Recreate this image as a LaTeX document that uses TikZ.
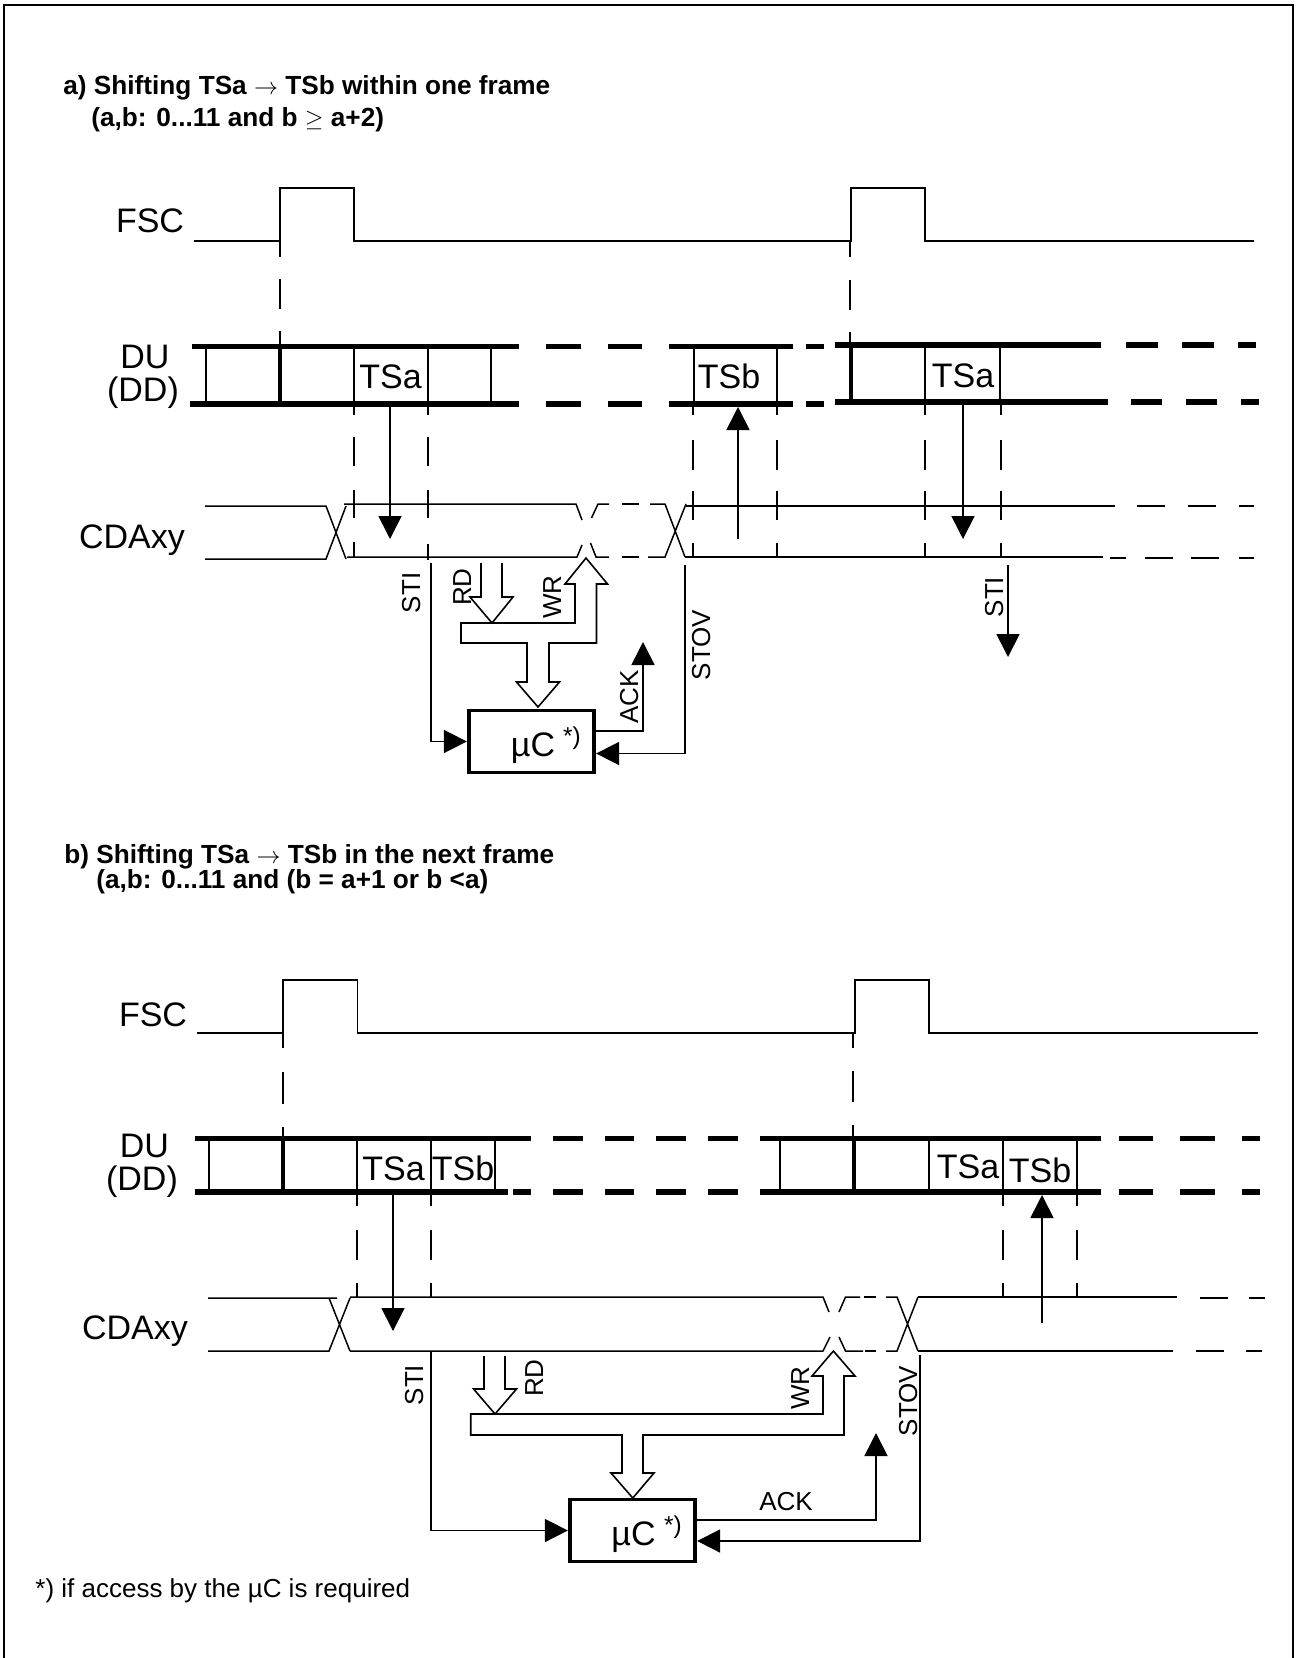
\documentclass[tikz,border=0pt]{standalone}
\usepackage{fontspec}
\setmainfont{Liberation Sans}
\usetikzlibrary{arrows.meta,calc}
\tikzset{
	wave/.style={line width=0.95pt},
	thin line/.style={line width=0.75pt},
	bus/.style={line width=2.8pt},
	frameline/.style={line width=1.25pt},
	tsmark/.style={line width=2.4pt},
	sig/.style={line width=0.85pt,-{Triangle[length=11.5pt,width=11.5pt]}},
	hollow/.style={line width=0.8pt,line join=miter},
	bigtext/.style={inner sep=0pt,anchor=base,font=\fontsize{17}{17}\selectfont},
	smalltext/.style={inner sep=0pt,anchor=base,font=\fontsize{13}{13}\selectfont},
	rottext/.style={smalltext,rotate=90},
	startext/.style={inner sep=0pt,anchor=base,font=\fontsize{12.2}{12}\selectfont},
	headtext/.style={inner sep=0pt,anchor=base west,font=\bfseries\fontsize{13.1}{13}\selectfont},
	mubox/.style={draw,line width=1.9pt,inner sep=0pt,minimum width=125.5pt/2,minimum height=31pt},
}
\begin{document}
\begin{tikzpicture}[x=0.5pt,y=-0.5pt]
		\useasboundingbox (0,0) rectangle (1295,1658);
		\draw[frameline] (4,1658) -- (4,5) -- (1293,5) -- (1293,1658);
		%
		\node[headtext] (heada1) at (63,95) {a) Shifting TSa \(\rightarrow\) TSb within one frame};
		\node[headtext] (heada2) at (91,127) {(a,b: 0...11 and b \(\geq\) a+2)};
		\node[bigtext] (fsca) at (150,233) {FSC};
		\node[bigtext] (dua) at (145,368) {DU};
		\node[bigtext] (dda) at (143,401) {(DD)};
		\node[bigtext] (cdaa) at (132,548) {CDAxy};
		\node[bigtext] (tsa1) at (390.5,388) {TSa};
		\node[bigtext] (tsb1) at (729,388) {TSb};
		\node[bigtext] (tsa2) at (963,387) {TSa};
		\node[rottext] (stia1) at (420,593) {STI};
		\node[rottext] (rda) at (471,587) {RD};
		\node[rottext] (wra) at (561,597) {WR};
		\node[rottext] (acka) at (638,697) {ACK};
		\node[rottext] (stova) at (710,645) {STOV};
		\node[rottext] (stia2) at (1003,597) {STI};
		\node[mubox] (muca) at (531.5,741.5) {};
		\node[bigtext] (muctexta) at (533,756) {µC};
		\node[startext] (starta) at (572,744) {*)};
		%
		\draw[wave] (194,240.7) -- (280,240.7) -- (280,188) -- (354,188) -- (354,240.7) -- (851,240.7) -- (851,188) -- (925,188) -- (925,240.7) -- (1254,240.7);
		\draw[thin line] (280,240) -- (280,257) (280,279) -- (280,309) (280,331) -- (280,346);
		\draw[thin line] (850,241) -- (850,257) (850,280) -- (850,310) (850,332) -- (850,345);
		% du lines
		\draw[bus] (192,346.7) -- (519,346.7) (546,346.7) -- (581,346.7) (608,346.7) -- (642,346.7) (669,346.7) -- (793,346.7) (806,346.7) -- (824,346.7);
		\draw[bus] (190,403.7) -- (519,403.7) (546,403.7) -- (581,403.7) (608,403.7) -- (642,403.7) (669,403.7) -- (793,403.7) (806,403.7) -- (824,403.7);
		\draw[bus] (835,345) -- (1101,345) (1126,345) -- (1158,345) (1182,345) -- (1214,345) (1238,345) -- (1256,345);
		\draw[bus] (835,401.7) -- (1108,401.7) (1131,401.7) -- (1162,401.7) (1186,401.7) -- (1217,401.7) (1241,401.7) -- (1259,401.7);
		\draw[tsmark] (280,346) -- (280,403) (851,345) -- (851,401);
		\draw[thin line] (206,347) -- (206,404) (354,347) -- (354,404) (428,347) -- (428,404) (491,347) -- (491,404);
		\draw[thin line] (694,347) -- (694,404) (777,347) -- (777,404) (925,345) -- (925,402) (1000,345) -- (1000,402);
		% slot marks
		\draw[thin line] (354,404) -- (354,415) (354,437) -- (354,466) (354,490) -- (354,518) (354,542) -- (354,557);
		\draw[thin line] (428,404) -- (428,415) (428,437) -- (428,466) (428,490) -- (428,518) (428,544) -- (428,560);
		\draw[thin line] (693,404) -- (693,415) (693,440) -- (693,470) (693,491) -- (693,520) (693,543) -- (693,557);
		\draw[thin line] (777,404) -- (777,415) (777,440) -- (777,470) (777,491) -- (777,520) (777,543) -- (777,557);
		\draw[thin line] (925,402) -- (925,415) (925,440) -- (925,470) (925,491) -- (925,520) (925,543) -- (925,557);
		\draw[thin line] (1001,402) -- (1001,415) (1001,440) -- (1001,470) (1001,491) -- (1001,520) (1001,543) -- (1001,557);
		% cda lines
		\draw[thin line] (205,506) -- (326,506) -- (346,559) (205,559) -- (326,559) -- (346,506);
		\draw[thin line] (344,504) -- (576,504) -- (582,520) (347,557) -- (577,557) -- (582,545);
		\draw[thin line] (609,504) -- (598,504) -- (591.5,518) (609,557) -- (596,557) -- (590.5,543);
		\draw[thin line] (622,504) -- (639,504) (622,557) -- (639,557);
		\draw[thin line] (650,504) -- (665,504) -- (685,557) (648,557) -- (665,557) -- (686,504);
		\draw[thin line] (686,506) -- (1115,506) (1137,506) -- (1165,506) (1188,506) -- (1216,506) (1239,506) -- (1254,506);
		\draw[thin line] (685,557) -- (1103,557) (1110,558) -- (1126,558) (1145,558) -- (1173,558) (1191,558) -- (1219,558) (1239,558) -- (1254,558);
		% data arrows
		\coordinate (tsa1out) at (390,404);
		\coordinate (tsa1in) at (390,539);
		\coordinate (tsb1from) at (738,539);
		\coordinate (tsb1to) at (738,407);
		\coordinate (tsa2out) at (963,402);
		\coordinate (tsa2in) at (963,539);
		\draw[sig] (tsa1out) -- (tsa1in);
		\draw[sig] (tsb1from) -- (tsb1to);
		\draw[sig] (tsa2out) -- (tsa2in);
		% interrupts
		\coordinate (stia1from) at (431,563);
		\coordinate (stia2from) at (1008,565);
		\coordinate (stia2to) at (1008,657);
		\coordinate (ackafrom) at (595,731);
		\coordinate (ackato) at (643,642);
		\coordinate (stovafrom) at (685,565);
		\draw[sig] (stia1from) |- (muca.west);
		\draw[sig] (stia2from) -- (stia2to);
		\draw[sig] (ackafrom) -| (ackato);
		\draw[sig] (stovafrom) |- ($(muca.east)+(0,12)$);
		%
		\draw[hollow] (481,563) -- (481,597) -- (470,597) -- (492,623) -- (513,597) -- (502,597) -- (502,563);
		\draw[hollow] (492,623) -- (461,623) -- (461,643) -- (527,643) -- (527,682) -- (516.5,682) -- (538,707) -- (559.5,682) -- (549,682) -- (549,643) -- (596.5,643) -- (596.5,584) -- (607.5,584) -- (586,558) -- (565,584) -- (575,584) -- (575,623) -- cycle;
		%
		\node[headtext] (headb1) at (64,863) {b) Shifting TSa \(\rightarrow\) TSb in the next frame};
		\node[headtext] (headb2) at (96,888) {(a,b: 0...11 and (b = a+1 or b <a)};
		\node[bigtext] (fscb) at (153,1026) {FSC};
		\node[bigtext] (dub) at (144.5,1157) {DU};
		\node[bigtext] (ddb) at (142,1190) {(DD)};
		\node[bigtext] (cdab) at (135,1339) {CDAxy};
		\node[bigtext] (tsa3) at (393.5,1180) {TSa};
		\node[bigtext] (tsb3) at (463,1180) {TSb};
		\node[bigtext] (tsa4) at (968,1178) {TSa};
		\node[bigtext] (tsb4) at (1040,1182) {TSb};
		\node[rottext] (stib) at (423,1385) {STI};
		\node[rottext] (rdb) at (543,1378) {RD};
		\node[rottext] (wrb) at (809,1388) {WR};
		\node[rottext] (stovb) at (917,1401) {STOV};
		\node[smalltext] (ackb) at (786,1510) {ACK};
		\node[mubox] (mucb) at (632.5,1530.5) {};
		\node[bigtext] (muctextb) at (633.5,1545) {µC};
		\node[startext] (starb) at (673,1533) {*)};
		\node[smalltext,anchor=base west] (note) at (35,1597) {*) if access by the µC is required};
		%
		\draw[wave] (197,1033) -- (283,1033) -- (283,980) -- (357.5,980) -- (357.5,1033) -- (855,1033) -- (855,980) -- (929,980) -- (929,1033) -- (1258,1033);
		\draw[thin line] (283,1033) -- (283,1048) (283,1072) -- (283,1104) (283,1127) -- (283,1139);
		\draw[thin line] (853,1033) -- (853,1048) (853,1071) -- (853,1102) (853,1125) -- (853,1138);
		% du lines
		\draw[bus] (195,1138.5) -- (531,1138.5) (553,1138.5) -- (583,1138.5) (605,1138.5) -- (634,1138.5) (656,1138.5) -- (686,1138.5) (708,1138.5) -- (738,1138.5) (760,1138.5) -- (1101,1138.5) (1119,1138.5) -- (1153,1138.5) (1180,1138.5) -- (1215,1138.5) (1242,1138.5) -- (1260,1138.5);
		\draw[bus] (195,1192) -- (508,1192) (513,1192) -- (531,1192) (553,1192) -- (583,1192) (605,1192) -- (634,1192) (656,1192) -- (686,1192) (708,1192) -- (738,1192) (760,1192) -- (1101,1192) (1119,1192) -- (1153,1192) (1180,1192) -- (1215,1192) (1242,1192) -- (1260,1192);
		\draw[tsmark] (283,1139) -- (283,1192) (854,1139) -- (854,1192);
		\draw[thin line] (209,1139) -- (209,1192) (357,1139) -- (357,1192) (431,1139) -- (431,1192) (495,1139) -- (495,1192);
		\draw[thin line] (780,1139) -- (780,1192) (929,1139) -- (929,1192) (1003,1139) -- (1003,1192) (1077,1139) -- (1077,1192);
		% slot marks
		\draw[thin line] (357,1192) -- (357,1206) (357,1230) -- (357,1260) (357,1283) -- (357,1298);
		\draw[thin line] (431,1192) -- (431,1206) (431,1230) -- (431,1260) (431,1283) -- (431,1298);
		\draw[thin line] (1003,1192) -- (1003,1206) (1003,1230) -- (1003,1260) (1003,1283) -- (1003,1298);
		\draw[thin line] (1077,1192) -- (1077,1206) (1077,1230) -- (1077,1260) (1077,1283) -- (1077,1298);
		% cda lines
		\draw[thin line] (208,1298) -- (337,1298) (329,1298) -- (350,1351) (208,1351) -- (329,1351) -- (350,1298);
		\draw[thin line] (350,1297) -- (823,1297) -- (829,1312) (350,1351) -- (823,1351) -- (830,1337);
		\draw[thin line] (860,1297) -- (845.5,1297) -- (839,1312) (863,1351) -- (845.5,1351) -- (839,1337);
		\draw[thin line] (864,1297) -- (876,1297) (865,1351) -- (876,1351);
		\draw[thin line] (886,1297) -- (897,1297) -- (918,1351) (886,1351) -- (897,1351) -- (918,1297);
		\draw[thin line] (918,1297) -- (1177,1297) (1200,1298) -- (1228,1298) (1249,1298) -- (1265,1298);
		\draw[thin line] (918,1351) -- (1172.5,1351) (1196,1351) -- (1224,1351) (1246,1351) -- (1262,1351);
		% data arrows
		\coordinate (tsa3out) at (393,1192);
		\coordinate (tsa3in) at (393,1331);
		\coordinate (tsb4from) at (1042,1323);
		\coordinate (tsb4to) at (1042,1195);
		\draw[sig] (tsa3out) -- (tsa3in);
		\draw[sig] (tsb4from) -- (tsb4to);
		% interrupts
		\coordinate (stibfrom) at (431,1351);
		\coordinate (ackbfrom) at (696,1520);
		\coordinate (ackbto) at (876,1433);
		\coordinate (stovbfrom) at (920,1355);
		\draw[sig] (stibfrom) |- (mucb.west);
		\draw[sig] (ackbfrom) -| (ackbto);
		\draw[sig] (stovbfrom) |- ($(mucb.east)+(0,10.5)$);
		%
		\draw[hollow] (484,1356) -- (484,1389) -- (473.6,1389) -- (495,1414) -- (516.5,1389) -- (505,1389) -- (505,1356);
		\draw[hollow] (495,1414) -- (470.7,1414) -- (470.7,1435) -- (622,1435) -- (622,1473) -- (611,1473) -- (632.8,1498) -- (654,1473) -- (643,1473) -- (643,1435) -- (844,1435) -- (844,1376) -- (855,1376) -- (833.4,1351) -- (812,1376) -- (823,1376) -- (823,1414) -- cycle;
\end{tikzpicture}
\end{document}
